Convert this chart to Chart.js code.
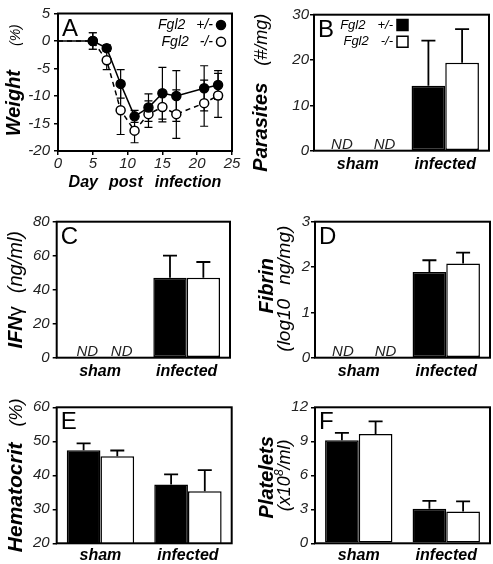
<!DOCTYPE html>
<html>
<head>
<meta charset="utf-8">
<script src="https://cdn.jsdelivr.net/npm/chart.js@4.4.1/dist/chart.umd.min.js"></script>
<style>
  html, body { margin: 0; padding: 0; background: #fff; }
  #fig { position: relative; width: 493px; height: 564px; overflow: hidden; }
  #fig canvas { position: absolute; left: 0; top: 0; }
</style>
</head>
<body>
<div id="fig">
  <canvas id="chartA" width="493" height="620"></canvas>
  <canvas id="chartB" width="493" height="620"></canvas>
  <canvas id="chartC" width="493" height="620"></canvas>
  <canvas id="chartD" width="493" height="620"></canvas>
  <canvas id="chartE" width="493" height="620"></canvas>
  <canvas id="chartF" width="493" height="620"></canvas>
</div>
<script>
// --- data ---
const days = [0, 5, 7, 9, 11, 13, 15, 17, 21, 23];
const weightHet = [0, 0, -1.3, -7.8, -13.7, -12.1, -9.5, -10.0, -8.6, -8.0];
const weightHetErr = [0, 1.5, 0.6, 2.6, 1.1, 2.5, 4.7, 4.6, 4.1, 2.6];
const weightKo = [0, 0, -3.5, -12.6, -16.3, -13.3, -12.0, -13.3, -11.3, -9.9];
const weightKoErr = [0, 1.5, 1.7, 4.4, 2.2, 2.4, 2.7, 4.4, 4.2, 4.0];

const groups = ['sham', 'infected'];
const parasitesHet = [null, 14.3];
const parasitesHetErr = [null, 10.0];
const parasitesKo = [null, 19.4];
const parasitesKoErr = [null, 7.4];
const ifnHet = [null, 47.0];
const ifnHetErr = [null, 13.0];
const ifnKo = [null, 47.0];
const ifnKoErr = [null, 9.3];
const fibrinHet = [null, 1.89];
const fibrinHetErr = [null, 0.26];
const fibrinKo = [null, 2.08];
const fibrinKoErr = [null, 0.24];
const hctHet = [47.4, 37.3];
const hctHetErr = [2.0, 3.0];
const hctKo = [45.6, 35.3];
const hctKoErr = [1.7, 6.2];
const pltHet = [9.1, 3.05];
const pltHetErr = [0.65, 0.7];
const pltKo = [9.65, 2.8];
const pltKoErr = [1.1, 0.9];

const FONT = "'Liberation Sans', Arial, Helvetica, sans-serif";
const W = 493, CH = 620, XH = 34;
Chart.defaults.font.family = FONT;

const BI = px => `italic bold ${px}px ${FONT}`;
const IT = px => `italic ${px}px ${FONT}`;
const RG = px => `${px}px ${FONT}`;

// error bars drawn through the chart's own y scale
const errorBars = {
    id: 'errorBars',
    beforeDatasetsDraw(chart) {
        const ctx = chart.ctx;
        const y = chart.scales.y;
        ctx.save();
        ctx.strokeStyle = '#000';
        chart.data.datasets.forEach((ds, i) => {
            if (!ds.errors) return;
            const meta = chart.getDatasetMeta(i);
            ds.data.forEach((d, j) => {
                const v = (d !== null && typeof d === 'object') ? d.y : d;
                const e = ds.errors[j];
                if (v === null || !e) return;
                const x = meta.data[j].x;
                const top = y.getPixelForValue(v + e);
                const bot = ds.errorUpOnly ? y.getPixelForValue(v) : y.getPixelForValue(v - e);
                const c = ds.errorCap;
                ctx.lineWidth = ds.errorWidth;
                ctx.beginPath();
                ctx.moveTo(x, top); ctx.lineTo(x, bot);
                ctx.moveTo(x - c, top); ctx.lineTo(x + c, top);
                if (!ds.errorUpOnly) { ctx.moveTo(x - c, bot); ctx.lineTo(x + c, bot); }
                ctx.stroke();
            });
        });
        ctx.restore();
    }
};

const frame = {
    id: 'frame',
    afterDatasetsDraw(chart) {
        const a = chart.chartArea;
        const ctx = chart.ctx;
        ctx.save();
        ctx.strokeStyle = '#000';
        ctx.lineWidth = 2;
        ctx.strokeRect(a.left, a.top, a.right - a.left, a.bottom - a.top);
        ctx.restore();
    }
};

function drawRuns(ctx, runs, cx, cy, rotated) {
    let total = 0;
    runs.forEach(r => { ctx.font = r.f; r.w = ctx.measureText(r.t).width; total += r.w + (r.gap || 0); });
    ctx.save();
    ctx.translate(cx, cy);
    if (rotated) ctx.rotate(-Math.PI / 2);
    ctx.textAlign = 'left';
    ctx.textBaseline = 'alphabetic';
    let pos = -total / 2;
    runs.forEach(r => {
        ctx.font = r.f;
        ctx.fillText(r.t, pos, r.rise ? -r.rise : 0);
        pos += r.w + (r.gap || 0);
    });
    ctx.restore();
}

// letter, axis titles, legend and ND marks for one panel
function notesPlugin(spec) {
    return {
        id: 'notes',
        afterDraw(chart) {
            const ctx = chart.ctx;
            const a = chart.chartArea;
            const midY = (a.top + a.bottom) / 2;
            ctx.save();
            ctx.fillStyle = '#000';
            ctx.font = RG(24);
            ctx.textAlign = 'left';
            ctx.textBaseline = 'alphabetic';
            ctx.fillText(spec.letter, a.left + 4, a.top + 22);

            spec.yTitle.forEach(line => drawRuns(ctx, line.runs, line.x, midY + (line.dy || 0), true));
            if (spec.xTitle) drawRuns(ctx, spec.xTitle.runs, (a.left + a.right) / 2, spec.xTitle.y, false);

            if (spec.legend) {
                const L = spec.legend;
                chart.data.datasets.forEach((ds, i) => {
                    const y = L.y + i * L.dy;
                    const parts = ds.label.split(' ');
                    ctx.lineWidth = 1.5;
                    ctx.strokeStyle = '#000';
                    ctx.fillStyle = L.shape === 'circle' ? ds.pointBackgroundColor : ds.backgroundColor;
                    ctx.beginPath();
                    if (L.shape === 'circle') ctx.arc(L.x, y, 4.5, 0, Math.PI * 2);
                    else ctx.rect(L.x - 5.5, y - 5.5, 11, 11);
                    ctx.fill();
                    ctx.stroke();
                    ctx.fillStyle = '#000';
                    ctx.font = IT(L.size);
                    ctx.textAlign = 'right';
                    ctx.textBaseline = 'middle';
                    const gx = L.x - L.markGap;
                    ctx.fillText(parts[1], gx, y);
                    const w = ctx.measureText(parts[1]).width;
                    ctx.fillText(parts[0], gx - w - L.wordGap, y);
                });
            }

            if (spec.nd) {
                ctx.font = IT(15);
                ctx.fillStyle = '#222';
                ctx.textAlign = 'center';
                ctx.textBaseline = 'alphabetic';
                chart.data.datasets.forEach((ds, i) => {
                    const meta = chart.getDatasetMeta(i);
                    ds.data.forEach((v, j) => {
                        if (v !== null) return;
                        ctx.fillText('ND', meta.data[j].x + spec.nd[i], a.bottom - 2);
                    });
                });
            }
            ctx.restore();
        }
    };
}

function yAxis(area, min, max, step, pad) {
    return {
        min: min, max: max,
        afterFit: s => { s.width = area.l; },
        border: { display: false },
        grid: { drawOnChartArea: false, drawTicks: true, tickLength: 4, color: '#000', lineWidth: 1.5 },
        ticks: { stepSize: step, padding: pad, color: '#222', font: { size: 15, style: 'italic' } }
    };
}

function layoutFor(area) {
    return { padding: { left: 0, top: area.t, right: W - area.r, bottom: CH - area.b - XH } };
}

function createLineChart(canvasId, spec) {
    const area = spec.area;
    return new Chart(document.getElementById(canvasId), {
        type: 'line',
        data: {
            datasets: [{
                label: 'Fgl2 +/-',
                data: days.map((d, i) => ({ x: d, y: weightHet[i] })),
                errors: weightHetErr, errorCap: 4, errorWidth: 1.2,
                borderColor: '#000', borderWidth: 1.5,
                pointBackgroundColor: '#000', pointBorderColor: '#000', pointBorderWidth: 1.5,
                pointRadius: c => (c.dataIndex === 0 ? 0 : 4.5),
                tension: 0
            }, {
                label: 'Fgl2 -/-',
                data: days.map((d, i) => ({ x: d, y: weightKo[i] })),
                errors: weightKoErr, errorCap: 4, errorWidth: 1.2,
                borderColor: '#000', borderWidth: 1.5, borderDash: [5, 4],
                pointBackgroundColor: '#fff', pointBorderColor: '#000', pointBorderWidth: 1.5,
                pointRadius: c => (c.dataIndex === 0 ? 0 : 4.5),
                tension: 0
            }]
        },
        options: {
            responsive: false, animation: false, events: [],
            layout: layoutFor(area),
            plugins: { legend: { display: false }, tooltip: { enabled: false } },
            scales: {
                x: {
                    type: 'linear', min: 0, max: 25,
                    afterFit: s => { s.height = XH; },
                    border: { display: false },
                    grid: { drawOnChartArea: false, drawTicks: true, tickLength: 4, color: '#000', lineWidth: 1.5 },
                    ticks: { stepSize: 5, padding: 0, maxRotation: 0, color: '#222', font: { size: 15, style: 'italic' } }
                },
                y: yAxis(area, -20, 5, 5, 4)
            }
        },
        plugins: [errorBars, frame, notesPlugin(spec.notes)]
    });
}

function createBarChart(canvasId, spec) {
    const area = spec.area;
    const bar = { categoryPercentage: 0.77, barPercentage: 1, borderColor: '#000', borderWidth: 1.5,
                  borderSkipped: false, clip: 0, errorUpOnly: true, errorCap: 7, errorWidth: 1.8 };
    return new Chart(document.getElementById(canvasId), {
        type: 'bar',
        data: {
            labels: groups,
            datasets: [
                Object.assign({ label: 'Fgl2 +/-', data: spec.het, errors: spec.hetErr, backgroundColor: '#000' }, bar),
                Object.assign({ label: 'Fgl2 -/-', data: spec.ko, errors: spec.koErr, backgroundColor: '#fff' }, bar)
            ]
        },
        options: {
            responsive: false, animation: false, events: [],
            layout: layoutFor(area),
            plugins: { legend: { display: false }, tooltip: { enabled: false } },
            scales: {
                x: {
                    afterFit: s => { s.height = XH; },
                    border: { display: false },
                    grid: { display: false },
                    ticks: { padding: spec.xPad, maxRotation: 0, color: '#000', font: { size: 16, style: 'italic', weight: 'bold' } }
                },
                y: yAxis(area, spec.y[0], spec.y[1], spec.y[2], spec.yPad)
            }
        },
        plugins: [errorBars, frame, notesPlugin(spec.notes)]
    });
}

createLineChart('chartA', {
    area: { l: 58, t: 13.5, r: 232, b: 151 },
    notes: {
        letter: 'A',
        yTitle: [{ x: 20, dy: -2, runs: [{ t: 'Weight', f: BI(20), gap: 24 }, { t: '(%)', f: IT(14) }] }],
        xTitle: { y: 187, runs: [{ t: 'Day', f: BI(16), gap: 11 }, { t: 'post', f: BI(16), gap: 12 }, { t: 'infection', f: BI(16) }] },
        legend: { x: 221, y: 25, dy: 16.7, shape: 'circle', markGap: 8, wordGap: 11, size: 14 }
    }
});

createBarChart('chartB', {
    area: { l: 314, t: 14.7, r: 489, b: 150.7 },
    het: parasitesHet, hetErr: parasitesHetErr, ko: parasitesKo, koErr: parasitesKoErr,
    y: [0, 30, 10], yPad: 1, xPad: -4,
    notes: {
        letter: 'B',
        yTitle: [{ x: 267, dy: 10, runs: [{ t: 'Parasites', f: BI(20), gap: 17 }, { t: '(#/mg)', f: IT(18) }] }],
        legend: { x: 402.5, y: 25, dy: 16.7, shape: 'square', markGap: 9.5, wordGap: 12, size: 13 },
        nd: [1, 10]
    }
});

createBarChart('chartC', {
    area: { l: 56.7, t: 221.7, r: 230, b: 357.7 },
    het: ifnHet, hetErr: ifnHetErr, ko: ifnKo, koErr: ifnKoErr,
    y: [0, 80, 20], yPad: 3, xPad: -4,
    notes: {
        letter: 'C',
        yTitle: [{ x: 22, dy: 0, runs: [{ t: 'IFN', f: BI(20) }, { t: 'γ', f: RG(20), gap: 13 }, { t: '(ng/ml)', f: IT(20) }] }],
        nd: [4, 5]
    }
});

createBarChart('chartD', {
    area: { l: 315, t: 221.7, r: 490, b: 357.7 },
    het: fibrinHet, hetErr: fibrinHetErr, ko: fibrinKo, koErr: fibrinKoErr,
    y: [0, 3, 1], yPad: 1, xPad: -4,
    notes: {
        letter: 'D',
        yTitle: [
            { x: 273, dy: -4, runs: [{ t: 'Fibrin', f: BI(20) }] },
            { x: 290, dy: -1, runs: [{ t: '(log10', f: IT(19), gap: 14 }, { t: 'ng/mg)', f: IT(19) }] }
        ],
        nd: [1, 10]
    }
});

createBarChart('chartE', {
    area: { l: 56.7, t: 407.3, r: 231.7, b: 543.3 },
    het: hctHet, hetErr: hctHetErr, ko: hctKo, koErr: hctKoErr,
    y: [20, 60, 10], yPad: 3, xPad: -5,
    notes: {
        letter: 'E',
        yTitle: [{ x: 22, dy: 0, runs: [{ t: 'Hematocrit', f: BI(21), gap: 16 }, { t: '(%)', f: IT(18) }] }]
    }
});

createBarChart('chartF', {
    area: { l: 315, t: 407.3, r: 490, b: 543.3 },
    het: pltHet, hetErr: pltHetErr, ko: pltKo, koErr: pltKoErr,
    y: [0, 12, 3], yPad: 3, xPad: -5,
    notes: {
        letter: 'F',
        yTitle: [
            { x: 273, dy: 2, runs: [{ t: 'Platelets', f: BI(20) }] },
            { x: 290, dy: 0, runs: [{ t: '(x10', f: IT(18) }, { t: '8', f: IT(12), rise: 7 }, { t: '/ml)', f: IT(18) }] }
        ]
    }
});
</script>
</body>
</html>
